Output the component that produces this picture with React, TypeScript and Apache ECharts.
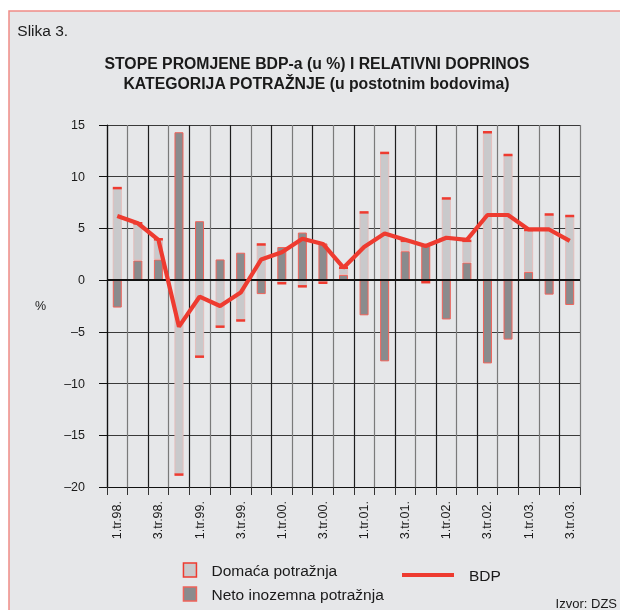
import React, { useEffect, useRef } from "react";
import * as echarts from "echarts";

const categories = [
  "1.tr.98.", "2.tr.98.", "3.tr.98.", "4.tr.98.",
  "1.tr.99.", "2.tr.99.", "3.tr.99.", "4.tr.99.",
  "1.tr.00.", "2.tr.00.", "3.tr.00.", "4.tr.00.",
  "1.tr.01.", "2.tr.01.", "3.tr.01.", "4.tr.01.",
  "1.tr.02.", "2.tr.02.", "3.tr.02.", "4.tr.02.",
  "1.tr.03.", "2.tr.03.", "3.tr.03.",
];

// Neto inozemna potražnja (dark bars)
const netoInozemna = [
  -2.65, 1.9, 2.0, 14.3, 5.7, 2.0, 2.65, -1.35, 3.2, 4.6, 3.55, 0.5,
  -3.4, -7.85, 2.8, 3.3, -3.8, 1.7, -8.05, -5.75, 0.8, -1.4, -2.4,
];

// Domaća potražnja (light bars)
const domaca = [
  8.9, 3.6, 1.95, -18.8, -7.4, -4.5, -3.9, 3.45, -0.3, -0.6, -0.25, 0.7,
  6.55, 12.3, 1.0, -0.2, 7.9, 2.1, 14.3, 12.1, 4.05, 6.35, 6.2,
];

// BDP (line)
const bdp = [
  6.2, 5.5, 3.9, -4.5, -1.6, -2.5, -1.2, 2.0, 2.7, 4.0, 3.5, 1.2,
  3.2, 4.5, 3.9, 3.3, 4.1, 3.9, 6.3, 6.3, 4.9, 4.9, 3.8,
];

const yTicks = { min: -20, max: 15, interval: 5 };

const FONT = "'Liberation Sans', Arial, Helvetica, sans-serif";
const RED = "#ee3b30";
const LIGHT = "#c9c9cb";
const DARK = "#8a8b8d";

export default function App() {
  const ref = useRef<HTMLDivElement>(null);

  useEffect(() => {
    if (!ref.current) return;
    const chart = echarts.init(ref.current, null, { renderer: "svg" });

    // end of each light bar within the same-sign stack
    const capValues = domaca.map((d, i) => {
      const n = netoInozemna[i];
      return (d >= 0) === (n >= 0) ? d + n : d;
    });

    chart.setOption({
      animation: false,
      backgroundColor: "transparent",
      textStyle: { fontFamily: FONT },
      graphic: [
        {
          type: "rect",
          z: -10,
          silent: true,
          shape: { x: 9, y: 11, width: 640, height: 640 },
          style: { fill: "#e6e7e9", stroke: "#f08c86", lineWidth: 1.5 },
        },
        {
          type: "text",
          x: 17.3,
          y: 30,
          style: {
            text: "Slika 3.",
            fontFamily: FONT,
            fontSize: 15.5,
            fill: "#1a1a1a",
            textVerticalAlign: "middle",
          },
        },
        {
          type: "text",
          x: 317,
          y: 63,
          style: {
            text: "STOPE PROMJENE BDP-a (u %) I RELATIVNI DOPRINOS",
            fontFamily: FONT,
            fontSize: 15.8,
            fontWeight: "bold",
            fill: "#1a1a1a",
            textAlign: "center",
            textVerticalAlign: "middle",
          },
        },
        {
          type: "text",
          x: 316.5,
          y: 83,
          style: {
            text: "KATEGORIJA POTRAŽNJE (u postotnim bodovima)",
            fontFamily: FONT,
            fontSize: 15.8,
            fontWeight: "bold",
            fill: "#1a1a1a",
            textAlign: "center",
            textVerticalAlign: "middle",
          },
        },
        {
          type: "text",
          x: 40.5,
          y: 306,
          style: {
            text: "%",
            fontFamily: FONT,
            fontSize: 12.5,
            fill: "#1a1a1a",
            textAlign: "center",
            textVerticalAlign: "middle",
          },
        },
        {
          type: "text",
          x: 617,
          y: 603,
          style: {
            text: "Izvor: DZS",
            fontFamily: FONT,
            fontSize: 13,
            fill: "#1a1a1a",
            textAlign: "right",
            textVerticalAlign: "middle",
          },
        },
      ],
      legend: [
        {
          orient: "vertical",
          left: 182.7,
          top: 562,
          itemWidth: 13,
          itemHeight: 14,
          itemGap: 8,
          padding: 0,
          selectedMode: false,
          textStyle: {
            fontFamily: FONT,
            fontSize: 15.5,
            color: "#1a1a1a",
            padding: [0, 0, 0, 10],
          },
          data: [
            {
              name: "Domaća potražnja",
              icon: "rect",
              itemStyle: { color: LIGHT, borderColor: RED, borderWidth: 1.5 },
            },
            {
              name: "Neto inozemna potražnja",
              icon: "rect",
              itemStyle: { color: DARK, borderColor: "#f0635a", borderWidth: 1.5 },
            },
          ],
        },
        {
          left: 402,
          top: 567,
          itemWidth: 52,
          itemHeight: 4,
          padding: 0,
          selectedMode: false,
          textStyle: {
            fontFamily: FONT,
            fontSize: 15.5,
            color: "#1a1a1a",
            padding: [0, 0, 0, 10],
          },
          data: [{ name: "BDP", icon: "rect", itemStyle: { color: RED } }],
        },
      ],
      grid: { left: 107, top: 125, width: 473, height: 362, containLabel: false },
      xAxis: {
        type: "category",
        data: categories,
        boundaryGap: true,
        axisLine: { show: true, onZero: false, lineStyle: { color: "#111", width: 1 } },
        axisTick: {
          show: true,
          interval: 0,
          length: 8,
          inside: false,
          lineStyle: { color: "#333", width: 1 },
        },
        axisLabel: {
          interval: 1,
          rotate: 90,
          margin: 14,
          fontFamily: FONT,
          fontSize: 12.5,
          color: "#1a1a1a",
        },
        splitLine: {
          show: true,
          interval: 0,
          showMinLine: true,
          showMaxLine: true,
          lineStyle: { color: ["#1e1e1e", "#7a7a7a"], width: 1.2 },
        },
      },
      yAxis: {
        type: "value",
        min: yTicks.min,
        max: yTicks.max,
        interval: yTicks.interval,
        axisLine: { show: true, lineStyle: { color: "#111", width: 1.2 } },
        axisTick: { show: true, length: 8, lineStyle: { color: "#111", width: 1 } },
        axisLabel: {
          margin: 22,
          fontFamily: FONT,
          fontSize: 12.5,
          color: "#1a1a1a",
          formatter: (v: number) => (v < 0 ? "\u2013" + Math.abs(v) : String(v)),
        },
        splitLine: {
          show: true,
          lineStyle: { color: "#3a3a3a", width: 1.2 },
        },
      },
      series: [
        {
          name: "Neto inozemna potražnja",
          type: "bar",
          stack: "doprinos",
          barWidth: 9,
          data: netoInozemna,
          itemStyle: { color: DARK, borderColor: "#f0635a", borderWidth: 1 },
          z: 2,
        },
        {
          name: "Domaća potražnja",
          type: "bar",
          stack: "doprinos",
          barWidth: 9,
          data: domaca,
          itemStyle: { color: LIGHT, borderColor: "#e9b9b6", borderWidth: 0.8 },
          z: 2,
          markLine: {
            silent: true,
            symbol: ["none", "none"],
            label: { show: false },
            lineStyle: { color: "#111", width: 2.2, type: "solid" },
            data: [{ yAxis: 0 }],
            z: 3,
          },
        },
        {
          name: "cap",
          type: "scatter",
          symbol: "rect",
          symbolSize: [9, 2.5],
          data: capValues,
          itemStyle: { color: RED, opacity: 1 },
          z: 4,
          silent: true,
        },
        {
          name: "BDP",
          type: "line",
          data: bdp,
          symbol: "none",
          lineStyle: { color: RED, width: 4.2 },
          itemStyle: { color: RED },
          z: 5,
        },
      ],
    });

    return () => chart.dispose();
  }, []);

  return (
    <div
      ref={ref}
      style={{ position: "fixed", left: 0, top: 0, width: 620, height: 610 }}
    />
  );
}
